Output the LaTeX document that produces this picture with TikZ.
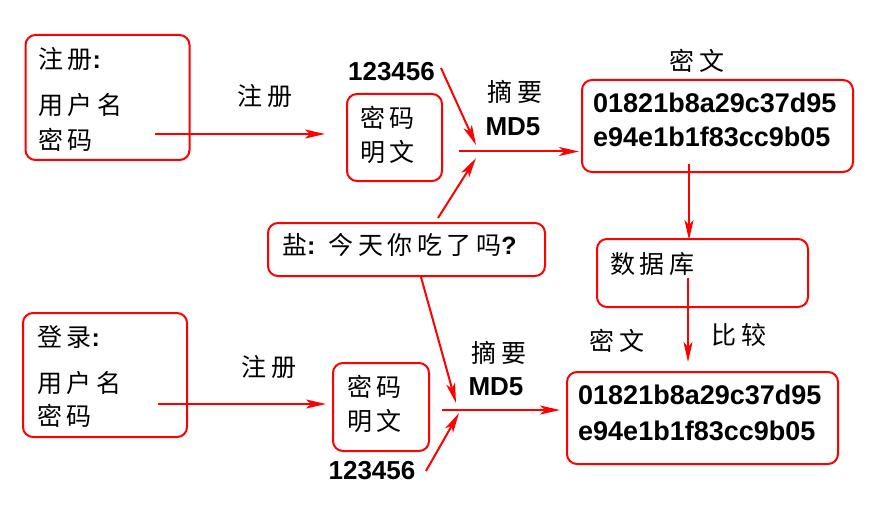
\documentclass[tikz,border=0pt]{standalone}
\usepackage{fontspec}
\setmainfont{Liberation Sans}
\newfontfamily\cjk[LetterSpace=18]{Noto Sans CJK SC}
\usetikzlibrary{arrows.meta}
\tikzset{
  box/.style={draw=red, line width=2pt, rounded corners=10pt, inner sep=0pt},
  conn/.style={draw=red, line width=2pt, -{Stealth[length=20pt,width=9pt,inset=5pt]}},
  cjkt/.style={font=\cjk\fontsize{25}{30}\selectfont, inner sep=0pt, anchor=west},
  hext/.style={font=\bfseries\fontsize{27}{32}\selectfont, inner sep=0pt, anchor=west},
  numt/.style={font=\bfseries\fontsize{26}{30}\selectfont, inner sep=0pt},
}
\newcommand{\lc}[1]{{\normalfont\bfseries\fontsize{25}{30}\selectfont #1}}
\begin{document}
\begin{tikzpicture}[x=1pt,y=-1pt]
\useasboundingbox (0,0) rectangle (874,505);
% ---------- top row: registration ----------
\node[box, minimum width=164, minimum height=125] (reg) at (107.5,97.5) {};
\node[cjkt] (regt) at (38,59) {注册\lc{:}};
\node[cjkt] (regu) at (38,105.5) {用户名};
\node[cjkt] (regp) at (38,139.5) {密码};
\node[cjkt, anchor=center] (regl) at (265,96) {注册};
\node[box, minimum width=95, minimum height=87] (pw1) at (394.5,137.5) {};
\node[cjkt] (pw1a) at (360,117.5) {密码};
\node[cjkt] (pw1b) at (360,152) {明文};
\node[numt] (n1) at (391.5,71.5) {123456};
\node[cjkt, anchor=center] (md1a) at (515,92) {摘要};
\node[numt] (md1b) at (513,127) {MD5};
\node[cjkt, anchor=center] (ct1l) at (697,61) {密文};
\node[box, minimum width=271, minimum height=92] (ct1) at (717.5,126) {};
\node[hext] (ct1a) at (593,103) {01821b8a29c37d95};
\node[hext] (ct1b) at (593,137) {e94e1b1f83cc9b05};
% ---------- salt ----------
\node[box, minimum width=277, minimum height=53] (salt) at (406.5,249.5) {};
\node[cjkt] (saltt) at (282,245) {盐\lc{:} 今天你吃了吗\lc{?}};
% ---------- database ----------
\node[box, minimum width=211, minimum height=68] (db) at (702.5,273) {};
\node[cjkt] (dbt) at (610,264) {数据库};
\node[cjkt, anchor=center] (cmp) at (739,335) {比较};
\node[cjkt, anchor=center] (ct2l) at (617,341) {密文};
% ---------- bottom row: login ----------
\node[box, minimum width=164, minimum height=124] (log) at (105,375) {};
\node[cjkt] (logt) at (37,337.5) {登录\lc{:}};
\node[cjkt] (logu) at (37,383) {用户名};
\node[cjkt] (logp) at (37,416) {密码};
\node[cjkt, anchor=center] (logl) at (269,367) {注册};
\node[box, minimum width=96, minimum height=88] (pw2) at (381,407) {};
\node[cjkt] (pw2a) at (347,387) {密码};
\node[cjkt] (pw2b) at (347,421) {明文};
\node[numt] (n2) at (372,471) {123456};
\node[cjkt, anchor=center] (md2a) at (499,353) {摘要};
\node[numt] (md2b) at (496,387) {MD5};
\node[box, minimum width=271, minimum height=92] (ct2) at (702.5,418) {};
\node[hext] (ct2a) at (578,395) {01821b8a29c37d95};
\node[hext] (ct2b) at (578,431) {e94e1b1f83cc9b05};
% ---------- connector end points ----------
\coordinate (r1s) at (155,134);
\coordinate (r1e) at (325,134);
\coordinate (h1s) at (459,151.5);
\coordinate (h1e) at (579,151.5);
\coordinate (n1s) at (441,68);
\coordinate (n1e) at (476,145);
\coordinate (s1s) at (438,218);
\coordinate (s1e) at (476,158);
\coordinate (v1s) at (689,164);
\coordinate (v1e) at (689,240);
\coordinate (v2s) at (688,278);
\coordinate (v2e) at (688,362);
\coordinate (s2s) at (421,277);
\coordinate (s2e) at (456,403);
\coordinate (r2s) at (158,404);
\coordinate (r2e) at (326,404);
\coordinate (h2s) at (442,410);
\coordinate (h2e) at (560,410);
\coordinate (n2s) at (426,471);
\coordinate (n2e) at (459,413);
% ---------- connectors ----------
\draw[conn] (r1s) -- (r1e);
\draw[conn] (h1s) -- (h1e);
\draw[conn] (n1s) -- (n1e);
\draw[conn] (s1s) -- (s1e);
\draw[conn] (v1s) -- (v1e);
\draw[conn] (v2s) -- (v2e);
\draw[conn] (s2s) -- (s2e);
\draw[conn] (r2s) -- (r2e);
\draw[conn] (h2s) -- (h2e);
\draw[conn] (n2s) -- (n2e);
\end{tikzpicture}
\end{document}
